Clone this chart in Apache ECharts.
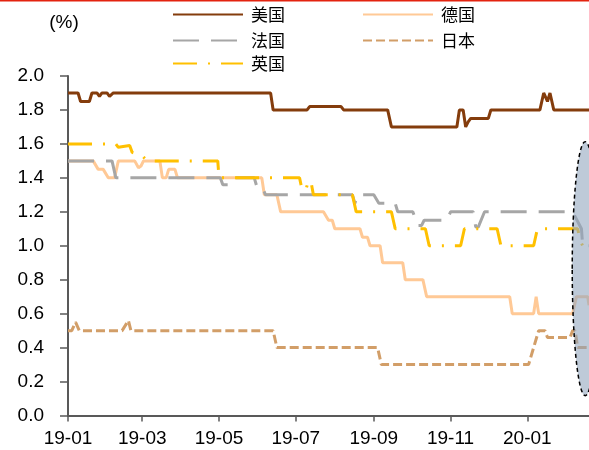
<!DOCTYPE html>
<html>
<head>
<meta charset="utf-8">
<script src="https://cdn.jsdelivr.net/npm/echarts@6/dist/echarts.min.js"></script>
<style>
html, body { margin: 0; padding: 0; background: #fff; }
#chart { width: 589px; height: 450px; }
</style>
</head>
<body>
<div id="chart"></div>
<script>
// 各国数据 [日期, %]
var usData = [
    ['2019-01-01', 1.9], ['2019-01-09', 1.9], ['2019-01-11', 1.85], ['2019-01-18', 1.85], ['2019-01-20', 1.9],
    ['2019-01-24', 1.9], ['2019-01-26', 1.88], ['2019-01-28', 1.9], ['2019-02-01', 1.9], ['2019-02-03', 1.88],
    ['2019-02-06', 1.9], ['2019-06-11', 1.9], ['2019-06-13', 1.8], ['2019-07-10', 1.8], ['2019-07-12', 1.82],
    ['2019-08-06', 1.82], ['2019-08-08', 1.8], ['2019-09-12', 1.8], ['2019-09-15', 1.7], ['2019-11-06', 1.7],
    ['2019-11-08', 1.8], ['2019-11-11', 1.8], ['2019-11-13', 1.7], ['2019-11-15', 1.73], ['2019-11-17', 1.75],
    ['2019-12-01', 1.75], ['2019-12-03', 1.8], ['2020-01-11', 1.8], ['2020-01-14', 1.9], ['2020-01-17', 1.85],
    ['2020-01-19', 1.9], ['2020-01-22', 1.8], ['2020-02-19', 1.8]
];
var deData = [
    ['2019-01-01', 1.5], ['2019-01-21', 1.5], ['2019-01-25', 1.45], ['2019-01-29', 1.45], ['2019-02-02', 1.4],
    ['2019-02-07', 1.4], ['2019-02-10', 1.5], ['2019-02-23', 1.5], ['2019-02-26', 1.46], ['2019-02-28', 1.47],
    ['2019-03-02', 1.5], ['2019-03-15', 1.5], ['2019-03-17', 1.4], ['2019-03-20', 1.4], ['2019-03-22', 1.45],
    ['2019-03-27', 1.45], ['2019-03-29', 1.4], ['2019-06-04', 1.4], ['2019-06-06', 1.3], ['2019-06-16', 1.3],
    ['2019-06-19', 1.2], ['2019-07-23', 1.2], ['2019-07-27', 1.15], ['2019-07-30', 1.15], ['2019-08-01', 1.1],
    ['2019-08-21', 1.1], ['2019-08-23', 1.05], ['2019-08-27', 1.05], ['2019-08-29', 1.0], ['2019-09-06', 1.0],
    ['2019-09-08', 0.9], ['2019-09-24', 0.9], ['2019-09-26', 0.8], ['2019-10-10', 0.8], ['2019-10-13', 0.7],
    ['2019-12-18', 0.7], ['2019-12-20', 0.6], ['2020-01-06', 0.6], ['2020-01-08', 0.7], ['2020-01-10', 0.6],
    ['2020-02-06', 0.6], ['2020-02-09', 0.7], ['2020-02-18', 0.7], ['2020-02-19', 0.65]
];
var frData = [
    ['2019-01-01', 1.5], ['2019-02-05', 1.5], ['2019-02-08', 1.4], ['2019-05-02', 1.4], ['2019-05-04', 1.36],
    ['2019-05-08', 1.36], ['2019-05-11', 1.4], ['2019-05-29', 1.4], ['2019-05-31', 1.35], ['2019-06-04', 1.35],
    ['2019-06-07', 1.3], ['2019-08-15', 1.3], ['2019-08-17', 1.25], ['2019-08-19', 1.3], ['2019-09-01', 1.3],
    ['2019-09-05', 1.25], ['2019-09-18', 1.25], ['2019-09-20', 1.2], ['2019-10-02', 1.2], ['2019-10-06', 1.12],
    ['2019-10-09', 1.12], ['2019-10-11', 1.15], ['2019-10-29', 1.15], ['2019-11-01', 1.2], ['2019-11-19', 1.2],
    ['2019-11-21', 1.11], ['2019-11-23', 1.11], ['2019-11-28', 1.2], ['2020-02-06', 1.2], ['2020-02-13', 1.1],
    ['2020-02-14', 1.0], ['2020-02-19', 1.0]
];
var jpData = [
    ['2019-01-01', 0.5], ['2019-01-04', 0.5], ['2019-01-07', 0.55], ['2019-01-10', 0.5], ['2019-02-13', 0.5],
    ['2019-02-18', 0.56], ['2019-02-20', 0.5], ['2019-06-13', 0.5], ['2019-06-16', 0.4], ['2019-09-04', 0.4],
    ['2019-09-07', 0.3], ['2020-01-02', 0.3], ['2020-01-06', 0.4], ['2020-01-10', 0.5], ['2020-01-15', 0.5],
    ['2020-01-17', 0.46], ['2020-02-04', 0.46], ['2020-02-06', 0.5], ['2020-02-08', 0.5], ['2020-02-10', 0.4],
    ['2020-02-19', 0.4]
];
var ukData = [
    ['2019-01-01', 1.6], ['2019-02-08', 1.6], ['2019-02-10', 1.58], ['2019-02-19', 1.59], ['2019-02-21', 1.55],
    ['2019-03-01', 1.53], ['2019-03-05', 1.5], ['2019-04-30', 1.5], ['2019-05-01', 1.4], ['2019-07-04', 1.4],
    ['2019-07-06', 1.33], ['2019-07-09', 1.33], ['2019-07-11', 1.38], ['2019-07-13', 1.38], ['2019-07-15', 1.3],
    ['2019-08-15', 1.3], ['2019-08-18', 1.2], ['2019-09-15', 1.2], ['2019-09-18', 1.1], ['2019-10-12', 1.1],
    ['2019-10-15', 1.0], ['2019-11-09', 1.0], ['2019-11-12', 1.1], ['2019-12-08', 1.1], ['2019-12-11', 1.0],
    ['2020-01-06', 1.0], ['2020-01-09', 1.1], ['2020-02-10', 1.1], ['2020-02-12', 1.03], ['2020-02-14', 1.0],
    ['2020-02-19', 1.0]
];
var tickMonths = ['2019-01', '2019-03', '2019-05', '2019-07', '2019-09', '2019-11', '2020-01'];

function dayTs(s) {
    var p = s.split('-');
    return new Date(+p[0], +p[1] - 1, p[2] ? +p[2] : 1).getTime();
}
var tickValues = tickMonths.map(dayTs);
function toPts(arr) {
    return arr.map(function (d) { return [dayTs(d[0]), d[1]]; });
}

var numFont = 'Liberation Sans';
var cjkFont = 'Noto Sans CJK SC';

function lineSeries(name, data, color, type) {
    return {
        name: name,
        type: 'line',
        data: toPts(data),
        symbol: 'none',
        showSymbol: false,
        animation: false,
        lineStyle: { color: color, width: 3, type: type, cap: 'butt' },
        itemStyle: { color: color }
    };
}

// 图例逐项定位，两列
function oneLegend(name, left, top) {
    return {
        data: [name],
        left: left,
        top: top,
        padding: 0,
        itemWidth: 70,
        itemHeight: 14,
        selectedMode: false,
        itemStyle: { opacity: 0 },
        textStyle: { fontFamily: cjkFont, fontSize: 17, color: '#000', padding: [0, 0, 0, 3] }
    };
}

var chart = echarts.init(document.getElementById('chart'));
var option = {
    animation: false,
    legend: [
        oneLegend('美国', 172, 6),
        oneLegend('法国', 172, 32),
        oneLegend('英国', 172, 55),
        oneLegend('德国', 362, 6),
        oneLegend('日本', 362, 32)
    ],
    grid: { left: 68, right: 0, top: 76, bottom: 34.5, outerBoundsMode: 'none' },
    xAxis: {
        type: 'value',
        min: dayTs('2019-01-01'),
        max: dayTs('2020-02-19'),
        axisLine: { lineStyle: { color: '#595959', width: 2 } },
        axisTick: { show: true, length: 6, lineStyle: { color: '#595959', width: 1.5 }, customValues: tickValues },
        splitLine: { show: false },
        axisLabel: {
            customValues: tickValues,
            margin: 14,
            color: '#000',
            fontFamily: numFont,
            fontSize: 19,
            formatter: function (v) {
                var d = new Date(v);
                var m = d.getMonth() + 1;
                return String(d.getFullYear()).slice(2) + '-' + (m < 10 ? '0' + m : m);
            }
        }
    },
    yAxis: {
        type: 'value',
        min: 0,
        max: 2.0,
        interval: 0.2,
        name: '(%)',
        nameLocation: 'end',
        nameGap: 44,
        nameTextStyle: { fontFamily: numFont, fontSize: 19, color: '#000', padding: [0, 8, 0, 0] },
        axisLine: { show: true, lineStyle: { color: '#595959', width: 2 } },
        axisTick: { show: true, length: 8, lineStyle: { color: '#595959', width: 1.5 } },
        splitLine: { show: false },
        axisLabel: {
            margin: 24,
            color: '#000',
            fontFamily: numFont,
            fontSize: 19,
            formatter: function (v) { return v.toFixed(1); }
        }
    },
    series: [
        lineSeries('美国', usData, '#843C0C', 'solid'),
        lineSeries('德国', deData, '#FFC996', 'solid'),
        lineSeries('法国', frData, '#A6A6A6', [26, 12]),
        lineSeries('日本', jpData, '#D29E68', [9, 4]),
        lineSeries('英国', ukData, '#FFC000', [24, 11, 2, 11])
    ]
};
chart.setOption(option);

// 右侧标注椭圆 + 顶部红线
var c = chart.convertToPixel({ gridIndex: 0 }, [dayTs('2020-02-16'), 0.865]);
chart.setOption({
    graphic: [
        {
            type: 'rect',
            z: 100,
            shape: { x: 0, y: 0, width: 589, height: 1.5 },
            style: { fill: '#E3230F' }
        },
        {
            type: 'ellipse',
            z: 100,
            shape: { cx: c[0], cy: c[1], rx: 13, ry: 127 },
            style: {
                fill: 'rgba(147,167,190,0.6)',
                stroke: '#000',
                lineWidth: 1.5,
                lineDash: [4, 3]
            }
        }
    ]
});
</script>
</body>
</html>
